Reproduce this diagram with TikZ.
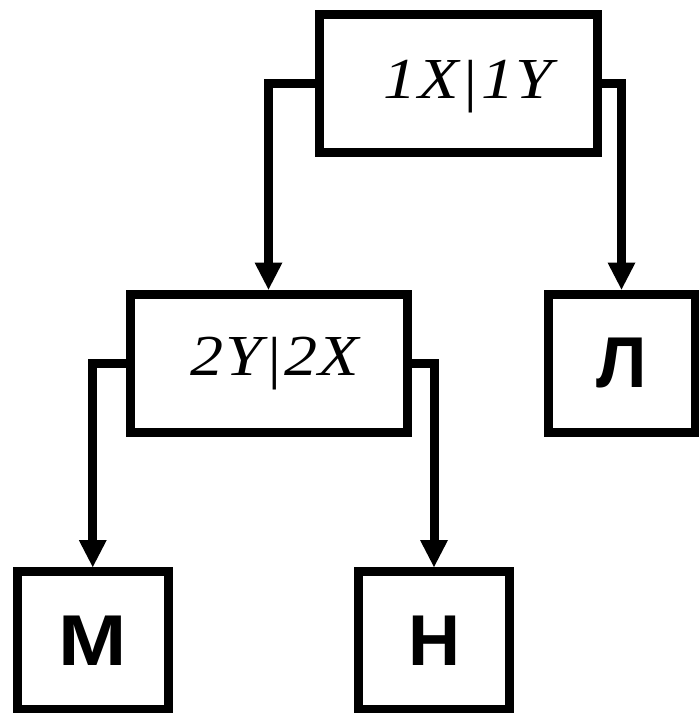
\documentclass[tikz,border=0pt]{standalone}
\usepackage{fontspec}
\setmainfont{Liberation Serif}
\newfontfamily\lettersans{Liberation Sans}
\usetikzlibrary{arrows.meta}

\tikzset{
  frame/.style={draw=black, line width=9pt, fill=white, inner sep=0pt, outer sep=0.5\pgflinewidth},
  splitlbl/.style={font=\fontsize{58}{60}\selectfont\itshape, inner sep=0pt},
  leaflbl/.style={font=\lettersans\bfseries\fontsize{72}{74}\selectfont},
  link/.style={line width=9pt, -{Triangle[width=28pt,length=27pt,line width=0pt]}}
}
% widened italic split label
\newcommand{\splittext}[2]{\scalebox{1.14}[1]{#1\kern2pt\raisebox{-2pt}{|}\kern2pt #2}}

\begin{document}
\begin{tikzpicture}[x=1pt, y=-1pt]
  \useasboundingbox (0,0) rectangle (699,713);

  % decision boxes
  \node[frame, minimum width=278pt, minimum height=137.5pt] (top) at (458,83.25) {};
  \node[splitlbl] (toplbl) at (468,87) {\splittext{1\kern1pt X}{1\kern1pt Y}};

  \node[frame, minimum width=277pt, minimum height=138pt] (mid) at (268.5,363) {};
  \node[splitlbl] (midlbl) at (275,364) {\splittext{2\kern1pt Y}{2\kern1pt X}};

  % leaves
  \node[frame, minimum width=147pt, minimum height=138pt, leaflbl] (L) at (621.5,363) {Л};
  \node[frame, minimum width=150.5pt, minimum height=137.5pt, leaflbl] (M) at (92.75,640.25) {\scalebox{1.14}[1]{М}};
  \node[frame, minimum width=151pt, minimum height=137.5pt, leaflbl] (N) at (434,640.25) {Н};

  % connectors
  \draw[link] (top.west) -| (mid.north);
  \draw[link] (top.east) -| (L.north);
  \draw[link] (mid.west) -| (M.north);
  \draw[link] (mid.east) -| (N.north);
\end{tikzpicture}
\end{document}
